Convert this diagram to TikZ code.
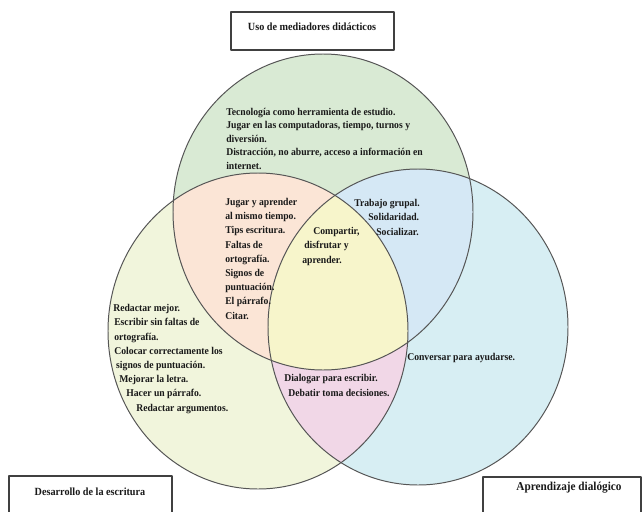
\documentclass[tikz,border=0pt]{standalone}
\usepackage{fontspec}
\setmainfont{Liberation Serif}[FakeStretch=0.93]
\definecolor{fondoG}{HTML}{D9EAD4}
\definecolor{fondoL}{HTML}{F1F5DC}
\definecolor{fondoR}{HTML}{D7EEF3}
\definecolor{fondoGL}{HTML}{FBE5D6}
\definecolor{fondoGR}{HTML}{D5E8F5}
\definecolor{fondoLR}{HTML}{F1D7E7}
\definecolor{fondoGLR}{HTML}{F7F5CB}
\definecolor{borde}{HTML}{555555}
\tikzset{
  txt/.style={font=\bfseries\fontsize{7.4}{10.1}\selectfont,align=left,anchor=base west,inner sep=0pt,text=black!90},
  rotulo/.style={font=\bfseries\fontsize{7.8}{10.1}\selectfont,inner sep=0pt,text=black!90},
  caja/.style={draw=black!75,line width=0.8pt}
}
\begin{document}
\begin{tikzpicture}[line cap=round,line join=round,x=1.cm,y=1.cm]
		\useasboundingbox (0.,0.) rectangle (16.05,12.775);
		\clip(0.,0.) rectangle (16.05,12.775);
		% circulos
		\fill[fondoG] (8.075,7.475) ellipse (3.75 and 3.95);
		\fill[fondoL] (6.45,4.5) ellipse (3.75 and 3.95);
		\fill[fondoR] (10.45,4.6) ellipse (3.75 and 3.95);
		\begin{scope}
			\clip (8.075,7.475) ellipse (3.75 and 3.95);
			\fill[fondoGL] (6.45,4.5) ellipse (3.75 and 3.95);
			\fill[fondoGR] (10.45,4.6) ellipse (3.75 and 3.95);
		\end{scope}
		\begin{scope}
			\clip (6.45,4.5) ellipse (3.75 and 3.95);
			\fill[fondoLR] (10.45,4.6) ellipse (3.75 and 3.95);
			\clip (8.075,7.475) ellipse (3.75 and 3.95);
			\fill[fondoGLR] (10.45,4.6) ellipse (3.75 and 3.95);
		\end{scope}
		\draw [line width=0.7pt,color=borde] (8.075,7.475) ellipse (3.75 and 3.95);
		\draw [line width=0.7pt,color=borde] (6.45,4.5) ellipse (3.75 and 3.95);
		\draw [line width=0.7pt,color=borde] (10.45,4.6) ellipse (3.75 and 3.95);
		% textos (anclados en la linea base de la ultima fila)
		\node[txt,font=\bfseries\fontsize{7.4}{9.5}\selectfont] (soloG) at (5.65,8.55) {Tecnología como herramienta de estudio.\\Jugar en las computadoras, tiempo, turnos y\\diversión.\\Distracción, no aburre, acceso a información en\\internet.};
		\node[txt] (GL) at (5.625,4.8) {Jugar y aprender\\al mismo tiempo.\\Tips escritura.\\Faltas de\\ortografía.\\Signos de\\puntuación.\\El párrafo.\\Citar.};
		\node[txt] (GLR) at (7.55,6.2) {\hspace*{7.9pt}Compartir,\\\hspace*{1.4pt}disfrutar y\\aprender.};
		\node[txt] (GR) at (8.85,6.9) {Trabajo grupal.\\\hspace*{10pt}Solidaridad.\\\hspace*{15.7pt}Socializar.};
		\node[txt] (soloL) at (2.825,2.5) {Redactar mejor.\\\hspace*{0.7pt}Escribir sin faltas de\\\hspace*{0.7pt}ortografía.\\\hspace*{0.7pt}Colocar correctamente los\\\hspace*{2.1pt}signos de puntuación.\\\hspace*{4.3pt}Mejorar la letra.\\\hspace*{9.3pt}Hacer un párrafo.\\\hspace*{16.4pt}Redactar argumentos.};
		\node[txt] (LR) at (7.1,2.875) {Dialogar para escribir.\\\hspace*{2.9pt}Debatir toma decisiones.};
		\node[txt] (soloR) at (10.175,3.775) {Conversar para ayudarse.};
		% cajas
		\draw[caja] (5.775,12.475) rectangle (9.85,11.525);
		\node[rotulo] (usoLbl) at (7.8,12.1) {Uso de mediadores didácticos};
		\draw[caja] (0.225,0.875) rectangle (4.3,-0.5);
		\node[rotulo] (desLbl) at (2.25,0.475) {Desarrollo de la escritura};
		\draw[caja] (12.075,0.85) rectangle (16.025,-0.5);
		\node[rotulo,font=\bfseries\fontsize{8.6}{10.1}\selectfont] (aprLbl) at (14.225,0.575) {Aprendizaje dialógico};
	\end{tikzpicture}
\end{document}
